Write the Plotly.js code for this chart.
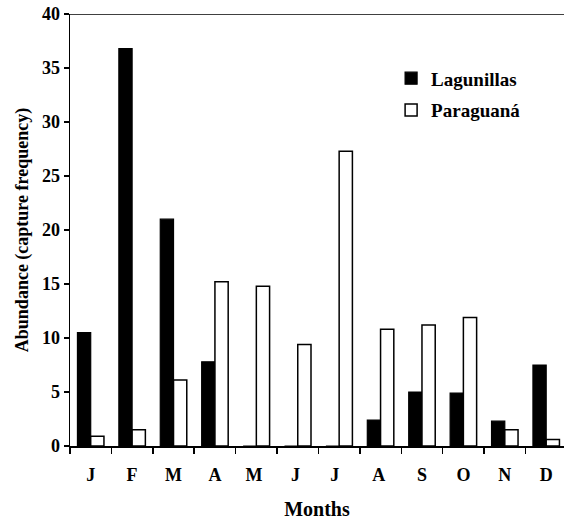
<!DOCTYPE html>
<html>
<head>
<meta charset="utf-8">
<script src="https://cdn.plot.ly/plotly-3.0.1.min.js"></script>
<style>html,body{margin:0;padding:0;background:#fff;}#chart{width:564px;height:521px;}</style>
</head>
<body>
<div id="chart"></div>
<script>
const months = ["J","F","M","A","M ","J ","J  ","A ","S","O","N","D"];
const lagunillas = [10.5, 36.8, 21.0, 7.8, 0, 0, 0, 2.4, 5.0, 4.9, 2.3, 7.5];
const paraguana = [0.9, 1.5, 6.1, 15.2, 14.8, 9.4, 27.3, 10.8, 11.2, 11.9, 1.5, 0.6];
const yTicks = [0, 5, 10, 15, 20, 25, 30, 35, 40];

const fontFam = "'Liberation Serif', 'Times New Roman', serif";
const traces = [
  {type: "bar", name: "Lagunillas", x: months, y: lagunillas, legendgroup: "a",
   marker: {color: "#000", line: {color: "#000", width: 1.2}}},
  {type: "bar", name: "Paraguaná", x: months, y: paraguana, legendgroup: "b",
   marker: {color: "#fff", line: {color: "#000", width: 1.5}}}
];
const layout = {
  width: 564, height: 521,
  margin: {l: 70, r: 0, t: 14, b: 75},
  paper_bgcolor: "#fff", plot_bgcolor: "#fff",
  font: {family: fontFam, color: "#000", size: 18, weight: "bold"},
  barmode: "group", bargap: 0.36, bargroupgap: 0,
  showlegend: true,
  legend: {x: 0.65, y: 0.895, xanchor: "left", yanchor: "top",
           traceorder: "grouped", tracegroupgap: 4,
           font: {family: fontFam, size: 19, color: "#000", weight: "bold"},
           bgcolor: "rgba(0,0,0,0)"},
  xaxis: {type: "category", range: [-0.5, 11.43], tickson: "boundaries",
          ticks: "outside", ticklen: 6, tickcolor: "#000", tickwidth: 1.5,
          showline: true, linecolor: "#000", linewidth: 1.5,
          showgrid: false, zeroline: false, ticklabelstandoff: 12,
          tickfont: {family: fontFam, size: 18, weight: "bold"},
          title: {text: "Months", font: {family: fontFam, size: 20, weight: "bold"}, standoff: 18}},
  yaxis: {range: [0, 40], tickvals: yTicks, ticktext: yTicks.map(String),
          ticks: "outside", ticklen: 5, tickcolor: "#000", tickwidth: 1.5,
          showline: true, linecolor: "#000", linewidth: 1.5,
          showgrid: false, zeroline: false,
          tickfont: {family: fontFam, size: 18, weight: "bold"},
          title: {text: "Abundance (capture frequency)", font: {family: fontFam, size: 18, weight: "bold"}, standoff: 8}},
  shapes: [{type: "line", xref: "paper", yref: "y", x0: 0, x1: 1, y0: 40, y1: 40,
            line: {color: "#000", width: 1.5}}]
};
Plotly.newPlot("chart", traces, layout, {displayModeBar: false, staticPlot: true});
</script>
</body>
</html>
